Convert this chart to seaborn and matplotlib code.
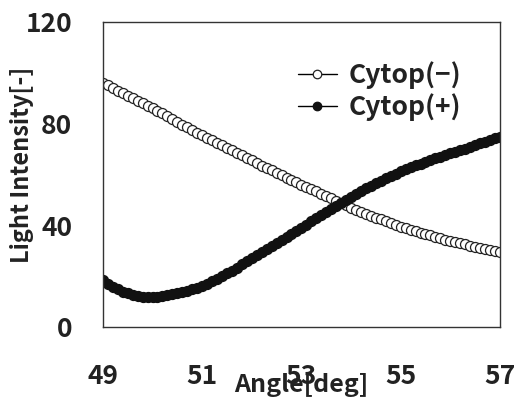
import numpy as np
import pandas as pd
import matplotlib
matplotlib.use("Agg")
import matplotlib.pyplot as plt
import seaborn as sns

# angle readings, 0.1 deg steps from 49 to 57
angle = [round(49 + 0.1 * i, 1) for i in range(81)]

# Cytop(-) light intensity
cytop_minus = [
    96.0, 95.0, 94.0, 93.0, 92.0, 91.0, 90.0, 89.0, 88.0, 87.0, 86.0,
    85.0, 84.0, 83.0, 82.0, 80.5, 79.5, 78.5, 77.5, 76.5, 75.5,
    74.5, 73.5, 72.5, 71.5, 70.5, 69.5, 68.5, 67.5, 66.5, 65.5,
    64.5, 63.5, 62.5, 61.6, 60.7, 59.7, 58.8, 57.8, 56.9, 56.0,
    55.1, 54.2, 53.3, 52.4, 51.5, 50.6, 49.7, 48.8, 47.9, 47.0,
    46.2, 45.4, 44.6, 43.8, 43.0, 42.3, 41.6, 40.9, 40.2, 39.5,
    38.9, 38.3, 37.7, 37.1, 36.5, 36.0, 35.4, 34.9, 34.4, 33.9,
    33.4, 32.9, 32.5, 32.0, 31.6, 31.2, 30.8, 30.4, 30.0, 29.5,
]

# Cytop(+) light intensity
cytop_plus = [
    18.5, 17.0, 15.8, 14.8, 13.9, 13.2, 12.6, 12.2, 11.9, 11.8, 11.8,
    11.9, 12.1, 12.4, 12.8, 13.2, 13.7, 14.3, 14.9, 15.5, 16.2,
    17.0, 17.9, 18.9, 20.0, 21.1, 22.2, 23.4, 24.6, 25.8, 27.0,
    28.2, 29.4, 30.6, 31.8, 33.0, 34.2, 35.4, 36.6, 37.8, 39.0,
    40.3, 41.5, 42.8, 44.0, 45.3, 46.5, 47.7, 48.9, 50.0, 51.2,
    52.3, 53.4, 54.5, 55.5, 56.5, 57.5, 58.5, 59.4, 60.3, 61.2,
    62.0, 62.8, 63.6, 64.3, 65.0, 65.7, 66.4, 67.0, 67.6, 68.3,
    68.9, 69.6, 70.2, 70.9, 71.6, 72.2, 72.9, 73.6, 74.2, 74.8,
]

x_ticks = [49, 51, 53, 55, 57]
y_ticks = [0, 40, 80, 120]

sns.set_style("white")
plt.rcParams['font.family'] = ['Noto Sans CJK JP', 'DejaVu Sans']
plt.rcParams['font.weight'] = 'bold'

df = pd.DataFrame({'Angle': angle, 'Cytop(−)': cytop_minus, 'Cytop(+)': cytop_plus})

fig = plt.figure(figsize=(5.17, 4.03), dpi=100)
ax = fig.add_axes([0.199, 0.1886, 0.768, 0.757])

sns.lineplot(data=df, x='Angle', y='Cytop(−)', ax=ax, color='black', lw=1,
             marker='o', markersize=7.2, markerfacecolor='white',
             markeredgecolor='#222222', markeredgewidth=0.9, label='Cytop(−)')
sns.lineplot(data=df, x='Angle', y='Cytop(+)', ax=ax, color='black', lw=1,
             marker='o', markersize=7.2, markerfacecolor='#111111',
             markeredgecolor='#111111', markeredgewidth=0.9, label='Cytop(+)')

ax.set_xlim(49, 57)
ax.set_ylim(0, 120)
ax.set_xticks(x_ticks)
ax.set_yticks(y_ticks)
ax.tick_params(direction='in', length=7, width=1, colors='#222222',
               labelsize=19, labelcolor='#222222')
ax.tick_params(axis='x', pad=26)
ax.tick_params(axis='y', pad=22)
for s in ax.spines.values():
    s.set_color('#333333')
    s.set_linewidth(1)

ax.set_xlabel('Angle[deg]', fontsize=18, fontweight='bold', color='#222222')
ax.xaxis.set_label_coords(0.5, -0.15)
ax.xaxis.label.set_va('top')
ax.set_ylabel('Light Intensity[-]', fontsize=17, fontweight='bold', color='#222222')
ax.yaxis.set_label_coords(-0.204, 0.53)
ax.yaxis.label.set_va('center')

leg = ax.legend(loc='upper right', bbox_to_anchor=(0.93, 0.905), frameon=False,
                fontsize=19, handlelength=1.5, handletextpad=0.45, labelspacing=0.15,
                borderaxespad=0, markerscale=0.85)
for t in leg.get_texts():
    t.set_color('#222222')

fig.savefig('out.png', dpi=100)
